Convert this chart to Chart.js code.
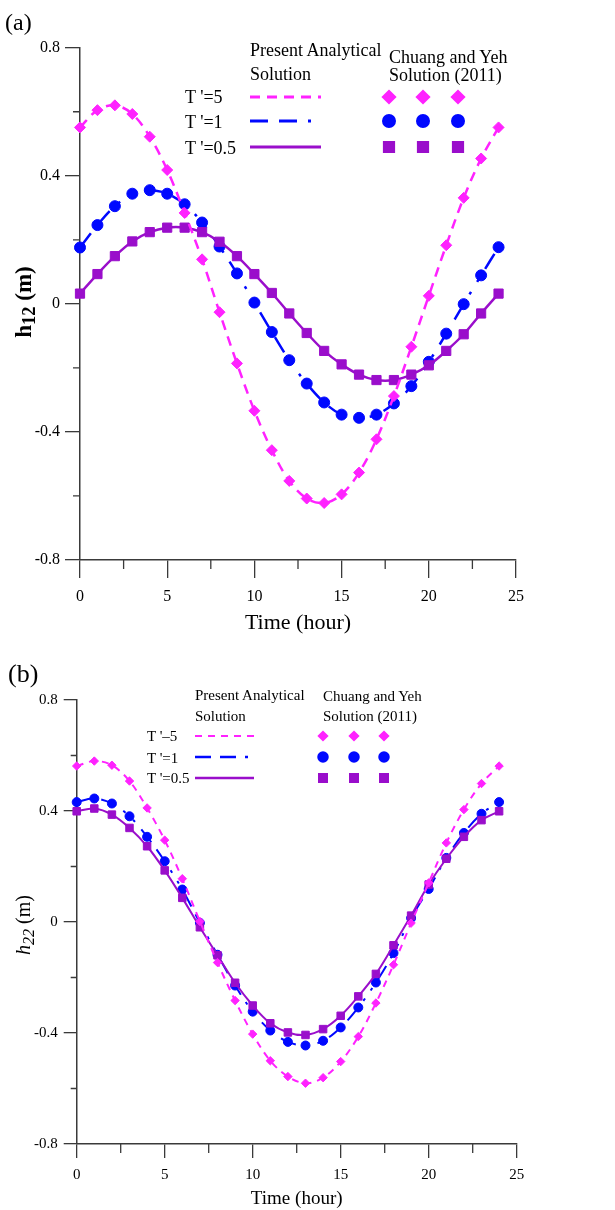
<!DOCTYPE html>
<html>
<head>
<meta charset="utf-8">
<script src="https://cdn.jsdelivr.net/npm/chart.js@4.4.1/dist/chart.umd.min.js"></script>
<style>
  body { margin: 0; background: #fff; width: 615px; height: 1210px; position: relative; overflow: hidden;
         font-family: "Liberation Serif", "Times New Roman", serif; color: #000; }
  canvas { position: absolute; left: 0; }
  .txt { position: absolute; white-space: nowrap; line-height: 1; }
  .ytitle { position: absolute; white-space: nowrap; line-height: 1; transform: translate(-50%, -50%) rotate(-90deg); }
  .ytitle sub { font-size: 80%; vertical-align: -0.25em; line-height: 0; }
</style>
</head>
<body>
<canvas id="chartA" width="615" height="636" style="top:0px"></canvas>
<canvas id="chartB" width="615" height="570" style="top:640px"></canvas>

<!-- panel (a) texts -->
<div class="txt" style="left:5px;top:10px;font-size:24px">(a)</div>
<div class="ytitle" style="left:23px;top:302px;font-size:23px;font-weight:bold">h<sub>12</sub> (m)</div>
<div class="txt" style="left:250px;top:41px;font-size:18px">Present Analytical</div>
<div class="txt" style="left:250px;top:65px;font-size:18px">Solution</div>
<div class="txt" style="left:389px;top:48px;font-size:18px">Chuang and Yeh</div>
<div class="txt" style="left:389px;top:66px;font-size:18px">Solution (2011)</div>
<div class="txt" style="left:185px;top:88px;font-size:18px">T '=5</div>
<div class="txt" style="left:185px;top:113px;font-size:18px">T '=1</div>
<div class="txt" style="left:185px;top:139px;font-size:18px">T '=0.5</div>

<!-- panel (b) texts -->
<div class="txt" style="left:8px;top:661px;font-size:26px">(b)</div>
<div class="ytitle" style="left:23px;top:925px;font-size:20px"><i>h</i><sub><i>22</i></sub> (m)</div>
<div class="txt" style="left:195px;top:688px;font-size:15px">Present Analytical</div>
<div class="txt" style="left:195px;top:709px;font-size:15px">Solution</div>
<div class="txt" style="left:323px;top:689px;font-size:15px">Chuang and Yeh</div>
<div class="txt" style="left:323px;top:709px;font-size:15px">Solution (2011)</div>
<div class="txt" style="left:147px;top:729px;font-size:15px">T '–5</div>
<div class="txt" style="left:147px;top:751px;font-size:15px">T '=1</div>
<div class="txt" style="left:147px;top:771px;font-size:15px">T '=0.5</div>

<script>
// Data
const hours = [0, 1, 2, 3, 4, 5, 6, 7, 8, 9, 10, 11, 12, 13, 14, 15, 16, 17, 18, 19, 20, 21, 22, 23, 24];

// (a) h12
const h12T5 = [0.551, 0.605, 0.620, 0.593, 0.522, 0.418, 0.284, 0.139, -0.026, -0.186, -0.334, -0.457, -0.553,
               -0.608, -0.622, -0.595, -0.527, -0.423, -0.288, -0.134, 0.025, 0.183, 0.331, 0.454, 0.551];
const h12T1 = [0.176, 0.246, 0.305, 0.344, 0.355, 0.344, 0.311, 0.254, 0.179, 0.095, 0.004, -0.088, -0.176,
               -0.249, -0.308, -0.346, -0.356, -0.346, -0.311, -0.257, -0.181, -0.093, -0.001, 0.089, 0.177];
const h12T05 = [0.032, 0.093, 0.149, 0.195, 0.224, 0.238, 0.238, 0.224, 0.194, 0.149, 0.093, 0.034, -0.030,
                -0.091, -0.147, -0.189, -0.221, -0.238, -0.238, -0.221, -0.192, -0.147, -0.095, -0.030, 0.032];

// (b) h22
const h22T5 = [0.562, 0.580, 0.565, 0.508, 0.411, 0.295, 0.156, 0.002, -0.146, -0.283, -0.404, -0.500, -0.557,
               -0.581, -0.561, -0.503, -0.413, -0.292, -0.154, -0.004, 0.141, 0.285, 0.405, 0.499, 0.562];
const h22T1 = [0.432, 0.445, 0.427, 0.381, 0.307, 0.219, 0.117, -0.003, -0.118, -0.229, -0.323, -0.391, -0.432,
               -0.445, -0.428, -0.380, -0.308, -0.218, -0.112, 0.014, 0.119, 0.231, 0.321, 0.390, 0.432];
const h22T05 = [0.399, 0.409, 0.387, 0.339, 0.273, 0.186, 0.087, -0.019, -0.120, -0.219, -0.301, -0.365, -0.398,
                -0.407, -0.386, -0.338, -0.268, -0.187, -0.084, 0.023, 0.135, 0.228, 0.307, 0.367, 0.399];

const xTitle = 'Time (hour)';

// Colours
const pink = '#ff22ff';
const blue = '#0008ff';
const purple = '#9a0ecb';
const axisColour = '#3a3a3a';
const fontFamily = '"Liberation Serif", "Times New Roman", serif';

function series(values) {
    return hours.map(function(h, i) { return { x: h, y: values[i] }; });
}

function makeDataset(values, colour, dash, style, radius, width) {
    return {
        data: series(values),
        borderColor: colour,
        backgroundColor: colour,
        borderWidth: width,
        borderDash: dash,
        pointStyle: style,
        pointRadius: radius,
        pointHoverRadius: radius,
        pointBackgroundColor: colour,
        pointBorderColor: colour,
        pointBorderWidth: 1,
        tension: 0.35,
        fill: false,
        clip: false
    };
}

// minor ticks + legend samples
function panelPlugin(p) {
    return {
        id: 'panelExtras',
        afterDraw: function(chart) {
            const ctx = chart.ctx;
            const xs = chart.scales.x, ys = chart.scales.y;
            const area = chart.chartArea;
            ctx.save();
            ctx.strokeStyle = axisColour;
            ctx.lineWidth = 1.3;
            ctx.setLineDash([]);
            ctx.beginPath();
            for (let v = 2.5; v < 25; v += 5) {
                const px = xs.getPixelForValue(v);
                ctx.moveTo(px, area.bottom);
                ctx.lineTo(px, area.bottom + p.xMinor);
            }
            for (let v = -0.6; v < 0.8; v += 0.4) {
                const py = ys.getPixelForValue(v);
                ctx.moveTo(area.left - p.yMinor, py);
                ctx.lineTo(area.left, py);
            }
            ctx.stroke();

            // legend samples
            p.rows.forEach(function(row) {
                ctx.strokeStyle = row.colour;
                ctx.lineWidth = row.width;
                ctx.setLineDash(row.dash);
                ctx.beginPath();
                ctx.moveTo(p.lineX0, row.y);
                ctx.lineTo(p.lineX1, row.y);
                ctx.stroke();
                ctx.setLineDash([]);
                ctx.fillStyle = row.colour;
                p.markX.forEach(function(mx) {
                    Chart.helpers.drawPoint(ctx, {
                        pointStyle: row.style, radius: row.radius, rotation: 0, borderWidth: 1
                    }, mx, row.y);
                    ctx.fill();
                });
            });
            ctx.restore();
        }
    };
}

function drawChart(id, p, sets) {
    const tickFont = { family: fontFamily, size: p.tickFont };
    new Chart(document.getElementById(id), {
        type: 'line',
        data: { datasets: sets },
        options: {
            responsive: false,
            animation: false,
            devicePixelRatio: 1,
            layout: { padding: { top: p.padTop, right: p.padRight, left: 0, bottom: 0 } },
            plugins: { legend: { display: false }, tooltip: { enabled: false } },
            scales: {
                x: {
                    type: 'linear', min: 0, max: 25,
                    ticks: { stepSize: 5, color: '#000', font: tickFont, padding: p.xPad, maxRotation: 0 },
                    grid: { drawOnChartArea: false, drawTicks: true, tickLength: p.xTick, color: axisColour, lineWidth: 1.3 },
                    border: { display: true, color: axisColour, width: 1.5 },
                    title: { display: true, text: xTitle, color: '#000', padding: 0,
                             font: { family: fontFamily, size: p.titleFont } },
                    afterFit: function(scale) { scale.height = p.xHeight; }
                },
                y: {
                    type: 'linear', min: -0.8, max: 0.8,
                    ticks: {
                        stepSize: 0.4, color: '#000', font: tickFont, padding: p.yPad,
                        callback: function(v) {
                            const r = Math.round(v * 10) / 10;
                            return r === 0 ? '0' : r.toFixed(1);
                        }
                    },
                    grid: { drawOnChartArea: false, drawTicks: true, tickLength: p.yTick, color: axisColour, lineWidth: 1.3 },
                    border: { display: true, color: axisColour, width: 1.5 },
                    afterFit: function(scale) { scale.width = p.yWidth; }
                }
            }
        },
        plugins: [panelPlugin(p)]
    });
}

// Panel (a)
const pinkDashA = [10, 7];
const blueDashA = [18, 11, 18, 11, 3, 12, 3, 12];
drawChart('chartA', {
    padTop: 47.7, padRight: 99, yWidth: 80, xHeight: 76,
    tickFont: 16, titleFont: 22, xTick: 18, xMinor: 9, yTick: 15, yMinor: 7, xPad: 9, yPad: 5,
    lineX0: 250, lineX1: 321, markX: [389, 423, 458],
    rows: [
        { y: 97, colour: pink, dash: pinkDashA, width: 3, style: 'rectRot', radius: 5.5 },
        { y: 121, colour: blue, dash: blueDashA, width: 3, style: 'circle', radius: 5.5 },
        { y: 147, colour: purple, dash: [], width: 3, style: 'rect', radius: 6.5 }
    ]
}, [
    makeDataset(h12T5, pink, pinkDashA, 'rectRot', 5.5, 2.5),
    makeDataset(h12T05, purple, [], 'rect', 6.5, 2.5),
    makeDataset(h12T1, blue, blueDashA, 'circle', 5.5, 2.5)
]);

// Panel (b)
const pinkDashB = [7, 6];
const blueDashB = [16, 9, 16, 9, 3, 10, 3, 10];
drawChart('chartB', {
    padTop: 60, padRight: 98.3, yWidth: 76.7, xHeight: 66,
    tickFont: 15, titleFont: 19, xTick: 14, xMinor: 9, yTick: 13, yMinor: 6, xPad: 8, yPad: 6,
    lineX0: 195, lineX1: 254, markX: [323, 354, 384],
    rows: [
        { y: 96, colour: pink, dash: pinkDashB, width: 2, style: 'rectRot', radius: 4.2 },
        { y: 117, colour: blue, dash: blueDashB, width: 2.5, style: 'circle', radius: 4.5 },
        { y: 138, colour: purple, dash: [], width: 2.5, style: 'rect', radius: 5.3 }
    ]
}, [
    makeDataset(h22T5, pink, pinkDashB, 'rectRot', 4.2, 2),
    makeDataset(h22T05, purple, [], 'rect', 5.3, 2),
    makeDataset(h22T1, blue, blueDashB, 'circle', 4.5, 2)
]);
</script>
</body>
</html>
